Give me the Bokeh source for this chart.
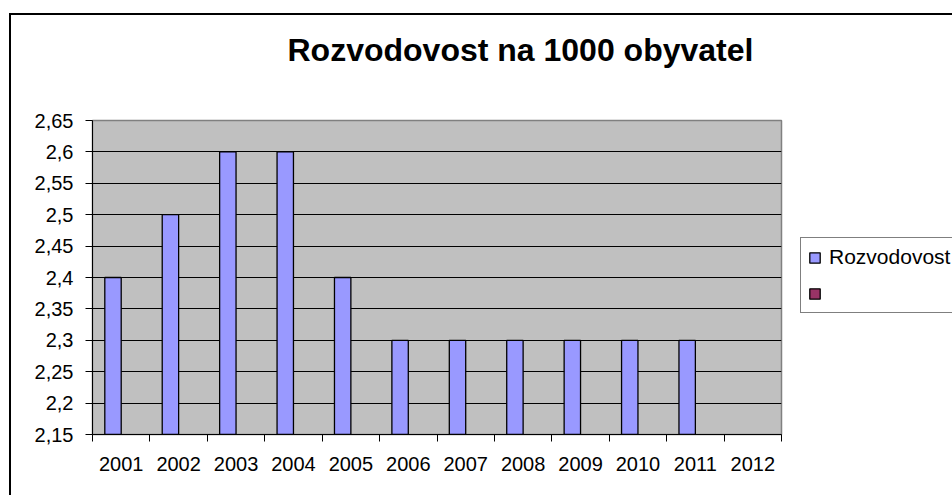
import math
from bokeh.plotting import figure
from bokeh.models import (ColumnDataSource, Range1d, FixedTicker, CustomJSTickFormatter,
                          Legend, LegendItem, Title)
from bokeh.transform import dodge
from bokeh.embed import file_html
from bokeh.resources import INLINE

# ---- data ----
years = [2001, 2002, 2003, 2004, 2005, 2006, 2007, 2008, 2009, 2010, 2011, 2012]
rozvodovost = [2.4, 2.5, 2.6, 2.6, 2.4, 2.3, 2.3, 2.3, 2.3, 2.3, 2.3, float("nan")]
series2 = [float("nan")] * 12
y_ticks = [2.15, 2.2, 2.25, 2.3, 2.35, 2.4, 2.45, 2.5, 2.55, 2.6, 2.65]
series_names = ["Rozvodovost", " "]
title_text = "Rozvodovost na 1000 obyvatel"

FONT = "Liberation Sans"
Y0, Y1 = y_ticks[0], y_ticks[-1]

src = ColumnDataSource(dict(year=years, v1=rozvodovost, v2=series2))

p = figure(output_backend="svg", toolbar_location=None, width=940, height=480,
           frame_width=689, frame_height=314,
           min_border_left=81, min_border_top=105, min_border_right=170, min_border_bottom=61,
           x_range=Range1d(years[0] - 0.5, years[-1] + 0.5),
           y_range=Range1d(Y0, Y1), title=title_text)

p.styles = {"border-top": "2px solid black", "border-left": "2px solid black",
            "margin-top": "13px", "margin-left": "9px"}

bw = 1 / 3.5
r1 = p.vbar(x=dodge("year", -bw / 2, range=p.x_range), top="v1", bottom=Y0, width=bw,
            source=src, fill_color="#9999FF", line_color="black", line_width=1.3)
r2 = p.vbar(x=dodge("year", bw / 2, range=p.x_range), top="v2", bottom=Y0, width=bw,
            source=src, fill_color="#993366", line_color="black", line_width=1.3)

p.background_fill_color = "#C0C0C0"
p.border_fill_color = "white"
p.outline_line_color = "#808080"
p.outline_line_width = 1.5

# title
p.title.text_font = FONT
p.title.text_font_size = "32px"
p.title.text_font_style = "bold"
p.title.align = "left"
p.title.offset = 195
p.title.standoff = 0
p.title.text_color = "black"

# blank spacer between the title and the plot area
p.add_layout(Title(text=" ", text_font_size="10px", standoff=40), "above")

# x axis
xa = p.xaxis[0]
xa.ticker = FixedTicker(ticks=years, minor_ticks=[y - 0.5 for y in years] + [years[-1] + 0.5])
xa.formatter = CustomJSTickFormatter(code="return String(Math.round(tick));")
xa.major_tick_out = 0
xa.major_tick_in = 0
xa.minor_tick_out = 7
xa.minor_tick_in = 0
xa.minor_tick_line_color = "black"
xa.axis_line_color = "black"
xa.major_label_text_font = FONT
xa.major_label_text_font_size = "20px"
xa.major_label_text_color = "black"
xa.major_label_standoff = 15

# y axis
ya = p.yaxis[0]
ya.ticker = FixedTicker(ticks=y_ticks, minor_ticks=[])
ya.formatter = CustomJSTickFormatter(
    code="return tick.toFixed(2).replace(/0$/, '').replace('.', ',');")
ya.major_tick_out = 7
ya.major_tick_in = 0
ya.minor_tick_out = 0
ya.minor_tick_in = 0
ya.major_tick_line_color = "black"
ya.axis_line_color = "black"
ya.major_label_text_font = FONT
ya.major_label_text_font_size = "20px"
ya.major_label_text_color = "black"
ya.major_label_standoff = 12

p.xgrid.grid_line_color = None
p.ygrid.ticker = FixedTicker(ticks=y_ticks, minor_ticks=[])
p.ygrid.grid_line_color = "black"
p.ygrid.grid_line_width = 1

legend = Legend(items=[LegendItem(label=series_names[0], renderers=[r1]),
                       LegendItem(label=series_names[1], renderers=[r2])],
                location=(19, 121))
legend.label_text_font = FONT
legend.label_text_font_size = "21px"
legend.label_text_color = "black"
legend.glyph_width = 13
legend.glyph_height = 13
legend.label_height = 24
legend.label_standoff = 8
legend.spacing = 12
legend.padding = 7
legend.margin = 0
legend.border_line_color = "black"
legend.border_line_width = 1
legend.background_fill_color = "white"
legend.background_fill_alpha = 1
p.add_layout(legend, "right")

open("out.html", "w").write(file_html(p, INLINE))
